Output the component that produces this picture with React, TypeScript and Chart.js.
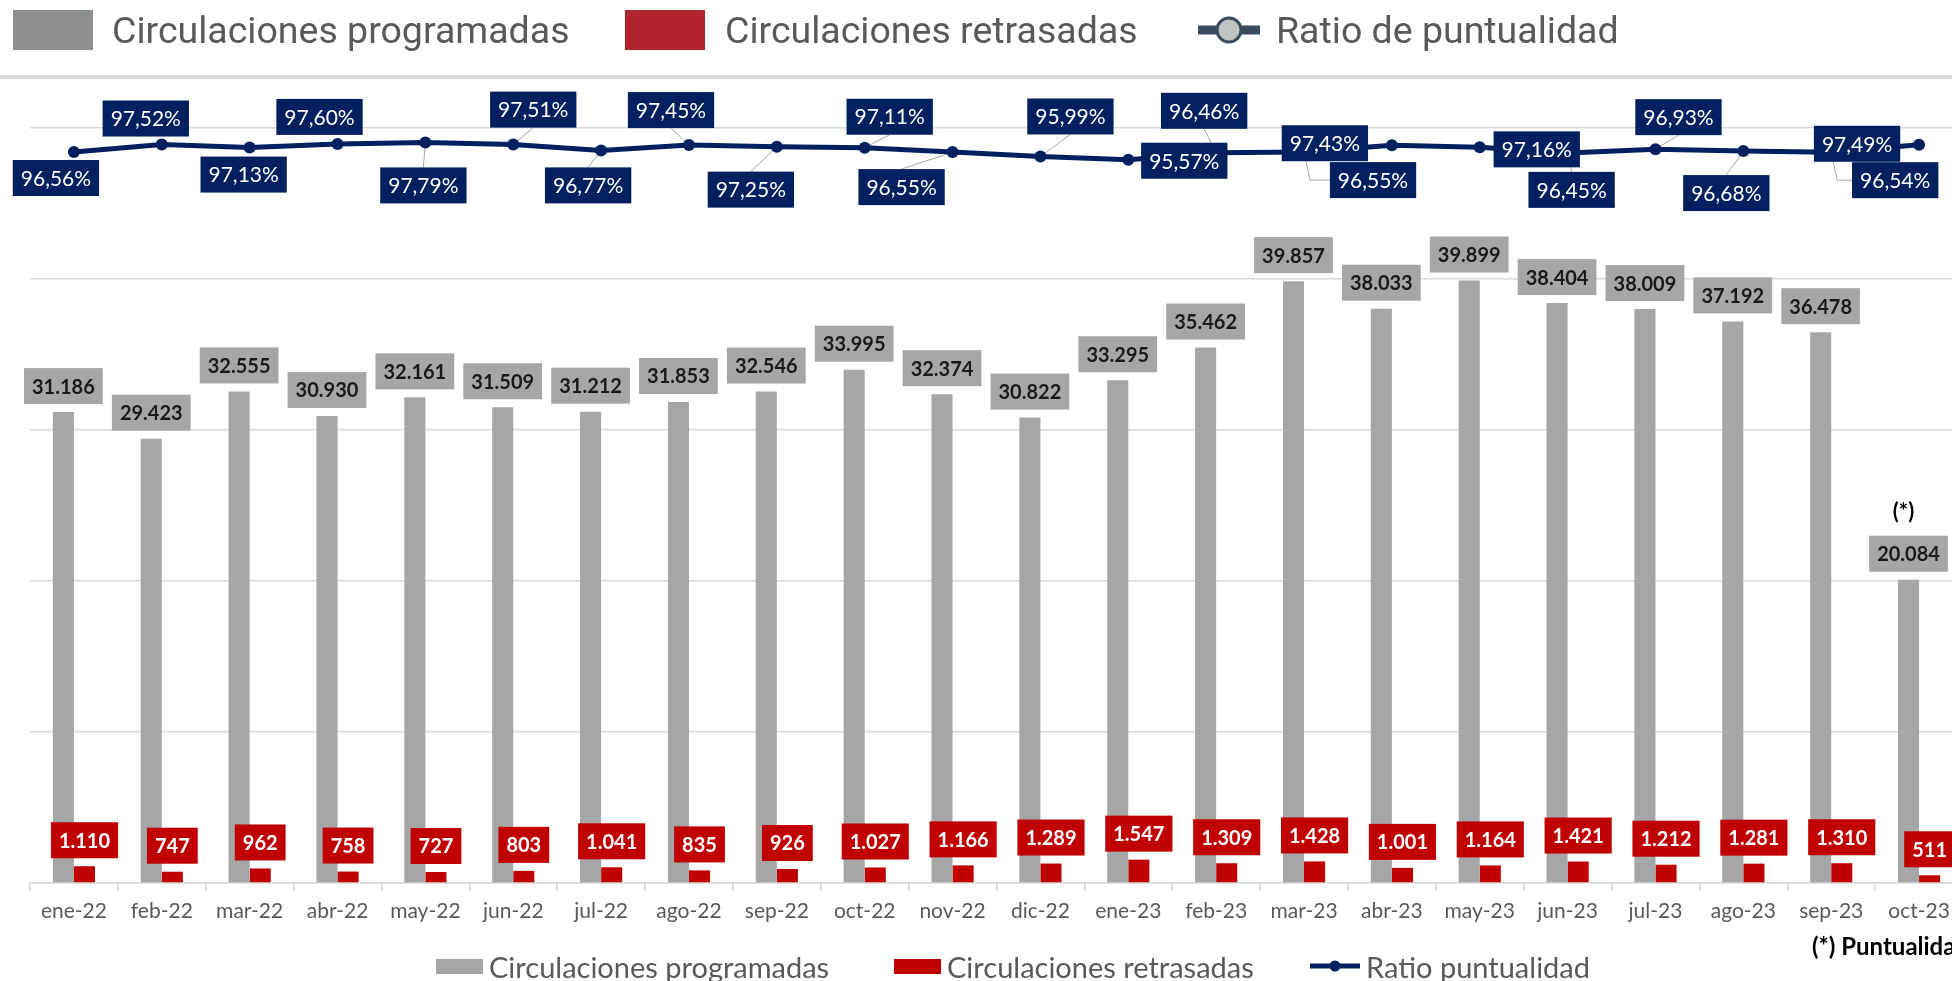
import React, { useEffect, useRef } from "react";
import { Chart, registerables } from "chart.js";

Chart.register(...registerables);

// ---------- data ----------
const categories = [
  "ene-22", "feb-22", "mar-22", "abr-22", "may-22", "jun-22", "jul-22", "ago-22",
  "sep-22", "oct-22", "nov-22", "dic-22", "ene-23", "feb-23", "mar-23", "abr-23",
  "may-23", "jun-23", "jul-23", "ago-23", "sep-23", "oct-23",
];
const programadas = [
  31186, 29423, 32555, 30930, 32161, 31509, 31212, 31853, 32546, 33995, 32374,
  30822, 33295, 35462, 39857, 38033, 39899, 38404, 38009, 37192, 36478, 20084,
];
const retrasadas = [
  1110, 747, 962, 758, 727, 803, 1041, 835, 926, 1027, 1166, 1289, 1547, 1309,
  1428, 1001, 1164, 1421, 1212, 1281, 1310, 511,
];
const puntualidad = [
  96.56, 97.52, 97.13, 97.6, 97.79, 97.51, 96.77, 97.45, 97.25, 97.11, 96.55,
  95.99, 95.57, 96.46, 96.55, 97.43, 97.16, 96.45, 96.93, 96.68, 96.54, 97.49,
];
const topLegend = ["Circulaciones programadas", "Circulaciones retrasadas", "Ratio de puntualidad"];
const bottomLegend = ["Circulaciones programadas", "Circulaciones retrasadas", "Ratio puntualidad"];
const noteMark = "(*)";
const noteIndex = 21;
const footnote = "(*) Puntualidad";

// ---------- label layout (offset of the label centre from its point, leader style) ----------
const ratioLabelLayout: [number, number, string][] = [
  [-18, 26, "none"], [-16, -26, "none"], [-6, 27, "none"], [-18, -27, "none"],
  [-2, 43, "line"], [20, -35, "line"], [-13, 35, "line"], [-18, -35, "line"],
  [-26, 43, "line"], [25, -31, "line"], [-51, 35, "line"], [30, -40, "line"],
  [56, 1, "none"], [-12, -42, "line"], [69, 28, "elbow"], [-67, -2, "none"],
  [57, 2, "none"], [4, 37, "line"], [23, -32, "line"], [-17, 42, "line"],
  [64, 28, "elbow"], [-62, -1, "none"],
];

const BOX_H = 36;
const PAD = 8;
const GAP = 8;
const BAR_FONT = "bold 20px Lato";
const LINE_FONT = "21px Lato";

const fmtThousands = (n: number) => String(n).replace(/\B(?=(\d{3})+(?!\d))/g, ".");
const fmtPct = (v: number) => v.toFixed(2).replace(".", ",") + "%";

function drawBox(ctx: CanvasRenderingContext2D, cx: number, cy: number, text: string, bg: string, fg: string, font: string) {
  ctx.font = font;
  const w = ctx.measureText(text).width + 2 * PAD;
  ctx.fillStyle = bg;
  ctx.fillRect(cx - w / 2, cy - BOX_H / 2, w, BOX_H);
  ctx.fillStyle = fg;
  ctx.textAlign = "center";
  ctx.textBaseline = "middle";
  ctx.fillText(text, cx, cy + 1);
}

const labelPlugin = {
  id: "boxLabels",
  beforeDatasetsDraw(chart: any) {
    const ctx: CanvasRenderingContext2D = chart.ctx;
    const meta = chart.getDatasetMeta(2);
    ctx.save();
    ctx.strokeStyle = "#a6a6a6";
    ctx.lineWidth = 1;
    meta.data.forEach((pt: any, i: number) => {
      const [dx, dy, kind] = ratioLabelLayout[i];
      if (kind === "none") return;
      const cx = pt.x + dx;
      const cy = pt.y + dy;
      ctx.font = LINE_FONT;
      const w = ctx.measureText(fmtPct(puntualidad[i])).width + 2 * PAD;
      ctx.beginPath();
      ctx.moveTo(pt.x, pt.y);
      if (kind === "elbow") {
        ctx.lineTo(pt.x + 6, cy);
        ctx.lineTo(cx - w / 2, cy);
      } else {
        const ey = dy > 0 ? cy - BOX_H / 2 : cy + BOX_H / 2;
        ctx.lineTo(cx, ey);
      }
      ctx.stroke();
    });
    ctx.restore();
  },
  afterDatasetsDraw(chart: any) {
    const ctx: CanvasRenderingContext2D = chart.ctx;
    ctx.save();
    const m0 = chart.getDatasetMeta(0);
    m0.data.forEach((el: any, i: number) => {
      const cy = el.y - GAP - BOX_H / 2;
      drawBox(ctx, el.x, cy, fmtThousands(programadas[i]), "#a6a6a6", "#1a1a1a", BAR_FONT);
      if (i === noteIndex) {
        ctx.font = "bold 22px Lato";
        ctx.fillStyle = "#000000";
        ctx.textAlign = "center";
        ctx.textBaseline = "middle";
        ctx.fillText(noteMark, el.x - 5, cy - BOX_H / 2 - 24);
      }
    });
    const m1 = chart.getDatasetMeta(1);
    m1.data.forEach((el: any, i: number) => {
      drawBox(ctx, el.x, el.y - GAP - BOX_H / 2, fmtThousands(retrasadas[i]), "#c00000", "#ffffff", BAR_FONT);
    });
    const m2 = chart.getDatasetMeta(2);
    m2.data.forEach((pt: any, i: number) => {
      const [dx, dy] = ratioLabelLayout[i];
      drawBox(ctx, pt.x + dx, pt.y + dy, fmtPct(puntualidad[i]), "#002060", "#ffffff", LINE_FONT);
    });
    ctx.restore();
  },
};

export default function App() {
  const ref = useRef<HTMLCanvasElement | null>(null);

  useEffect(() => {
    if (!ref.current) return;
    const chart = new Chart(ref.current, {
      type: "bar",
      data: {
        labels: categories,
        datasets: [
          {
            type: "bar",
            label: bottomLegend[0],
            data: programadas,
            backgroundColor: "#a6a6a6",
            yAxisID: "y",
            order: 2,
            categoryPercentage: 0.48,
            barPercentage: 1,
          },
          {
            type: "bar",
            label: bottomLegend[1],
            data: retrasadas,
            backgroundColor: "#c00000",
            yAxisID: "y",
            order: 2,
            categoryPercentage: 0.48,
            barPercentage: 1,
          },
          {
            type: "line",
            label: bottomLegend[2],
            data: puntualidad,
            yAxisID: "y2",
            borderColor: "#002060",
            borderWidth: 5,
            pointRadius: 6,
            pointBackgroundColor: "#002060",
            pointBorderWidth: 0,
            tension: 0,
            order: 0,
          },
        ],
      } as any,
      options: {
        responsive: false,
        animation: false,
        layout: { padding: { left: 30, right: 32, top: 128, bottom: 0 } },
        plugins: { legend: { display: false }, tooltip: { enabled: false } },
        scales: {
          x: {
            offset: true,
            grid: { offset: true, drawOnChartArea: false, drawTicks: true, tickLength: 8, color: "#d9d9d9", lineWidth: 1.5 },
            border: { display: true, color: "#d9d9d9", width: 1.5 },
            ticks: { color: "#595959", font: { family: "Lato", size: 21 }, padding: 8, autoSkip: false, maxRotation: 0 },
            afterFit: (s: any) => {
              s.height = 98;
            },
          },
          y: {
            min: 0,
            max: 50000,
            ticks: { display: false, stepSize: 10000 },
            grid: { color: "#d9d9d9", lineWidth: 1.5, drawTicks: false },
            border: { display: false },
            afterFit: (s: any) => {
              s.width = 0;
            },
          },
          y2: { display: false, min: 2.84, max: 99.64 },
        },
      } as any,
      plugins: [labelPlugin],
    });
    return () => chart.destroy();
  }, []);

  const abs = (left: number, top: number): React.CSSProperties => ({ position: "absolute", left, top });
  const topText: React.CSSProperties = {
    fontFamily: "Roboto, 'Liberation Sans', sans-serif",
    fontSize: 37.5,
    lineHeight: 1,
    color: "#595959",
    whiteSpace: "nowrap",
    transform: "translateY(-50%)",
  };
  const botText: React.CSSProperties = {
    fontFamily: "Lato, sans-serif",
    fontSize: 29,
    lineHeight: 1,
    color: "#595959",
    whiteSpace: "nowrap",
    transform: "translateY(-50%)",
  };

  return (
    <div style={{ position: "absolute", left: 0, top: 0, width: 1952, height: 981, overflow: "hidden", background: "#ffffff" }}>
      <canvas ref={ref} width={1995} height={981} style={{ position: "absolute", left: 0, top: 0 }} />

      {/* top legend */}
      <div style={{ ...abs(13, 10), width: 80, height: 40, background: "#8c908d" }} />
      <div style={{ ...abs(112, 31), ...topText }}>{topLegend[0]}</div>
      <div style={{ ...abs(625, 10), width: 80, height: 40, background: "#b0232a" }} />
      <div style={{ ...abs(725, 31), ...topText }}>{topLegend[1]}</div>
      <svg style={abs(1196, 14)} width={66} height={32}>
        <line x1={2} y1={16} x2={64} y2={16} stroke="#3b4b5e" strokeWidth={9} />
        <circle cx={33} cy={16} r={12} fill="#c0c4c0" stroke="#3b4b5e" strokeWidth={3} />
      </svg>
      <div style={{ ...abs(1276, 31), ...topText }}>{topLegend[2]}</div>
      <div style={{ ...abs(0, 75), width: 1952, height: 4, background: "#d9d9d9" }} />

      {/* bottom legend */}
      <div style={{ ...abs(436, 959), width: 47, height: 15, background: "#a6a6a6" }} />
      <div style={{ ...abs(489, 966), ...botText }}>{bottomLegend[0]}</div>
      <div style={{ ...abs(894, 959), width: 47, height: 15, background: "#c00000" }} />
      <div style={{ ...abs(947, 966), ...botText }}>{bottomLegend[1]}</div>
      <svg style={abs(1308, 956)} width={54} height={20}>
        <line x1={2} y1={10} x2={52} y2={10} stroke="#002060" strokeWidth={5} />
        <circle cx={27} cy={10} r={5.5} fill="#002060" />
      </svg>
      <div style={{ ...abs(1366, 966), ...botText }}>{bottomLegend[2]}</div>

      {/* footnote */}
      <div
        style={{
          ...abs(1812, 946),
          fontFamily: "Lato, sans-serif",
          fontWeight: 700,
          fontSize: 24,
          lineHeight: 1,
          color: "#000000",
          whiteSpace: "nowrap",
          transform: "translateY(-50%)",
        }}
      >
        {footnote}
      </div>
    </div>
  );
}
